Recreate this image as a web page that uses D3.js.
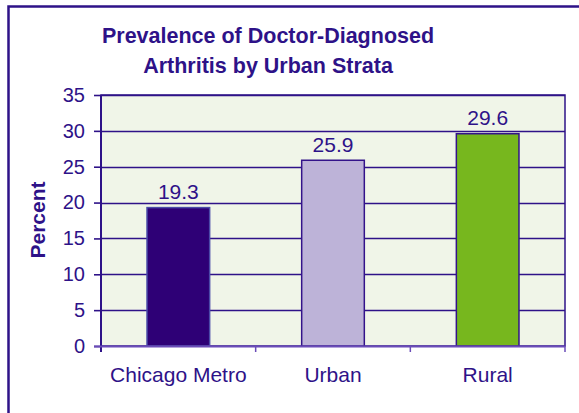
<!DOCTYPE html>
<html>
<head>
<meta charset="utf-8">
<script src="https://cdn.jsdelivr.net/npm/d3@7"></script>
<style>
  body { margin: 0; background: #fff; }
  text { font-family: "Liberation Sans", Arial, sans-serif; }
</style>
</head>
<body>
<div id="chart"></div>
<script>
var categories = ["Chicago Metro", "Urban", "Rural"];
var values = [19.3, 25.9, 29.6];
var barColors = ["#2e0076", "#bdb3d8", "#77b71e"];
var barStrokes = ["#4a4aa8", "#33138a", "#33138a"];
var yTicks = [0, 5, 10, 15, 20, 25, 30, 35];
var titleLines = ["Prevalence of Doctor-Diagnosed", "Arthritis by Urban Strata"];

var W = 579, H = 413;
var ink = "#2e1288";
var plot = { left: 101, right: 565, top: 95, bottom: 346 };

var svg = d3.select("#chart").append("svg")
    .attr("width", W)
    .attr("height", H);

// outer frame
svg.append("rect")
    .attr("x", 8.5).attr("y", 6.5)
    .attr("width", 600).attr("height", 430)
    .attr("fill", "#fff")
    .attr("stroke", ink)
    .attr("stroke-width", 2.5);

var x = d3.scaleBand()
    .domain(categories)
    .range([plot.left, plot.right])
    .padding(0);

var y = d3.scaleLinear()
    .domain([0, 35])
    .range([plot.bottom, plot.top]);

// plot background
svg.append("rect")
    .attr("x", plot.left).attr("y", plot.top)
    .attr("width", plot.right - plot.left)
    .attr("height", plot.bottom - plot.top)
    .attr("fill", "#f0f5e8")
    .attr("stroke", ink)
    .attr("stroke-width", 1.5);

// gridlines
svg.append("g").selectAll("line")
    .data(yTicks.filter(function(d) { return d > 0; }))
    .enter().append("line")
    .attr("x1", plot.left).attr("x2", plot.right)
    .attr("y1", function(d) { return Math.round(y(d)) + 0.5; })
    .attr("y2", function(d) { return Math.round(y(d)) + 0.5; })
    .attr("stroke", ink)
    .attr("stroke-width", 1.6);

// y axis
var yAxis = svg.append("g")
    .attr("transform", "translate(" + plot.left + ",0)")
    .call(d3.axisLeft(y).tickValues(yTicks).tickSize(7).tickPadding(9));
yAxis.select(".domain").attr("stroke", ink).attr("stroke-width", 2)
    .attr("d", "M0," + plot.top + "V" + (plot.bottom + 6));
yAxis.selectAll(".tick line").attr("stroke", ink).attr("stroke-width", 1.6);
yAxis.selectAll(".tick text")
    .attr("fill", ink)
    .style("font-size", "20px")
    .style("font-family", "'Liberation Sans', Arial, sans-serif");

// bars
var barW = x.bandwidth() * 0.405;
svg.append("g").selectAll("rect")
    .data(values)
    .enter().append("rect")
    .attr("x", function(d, i) { return x(categories[i]) + (x.bandwidth() - barW) / 2; })
    .attr("y", function(d) { return y(d); })
    .attr("width", barW)
    .attr("height", function(d) { return y(0) - y(d); })
    .attr("fill", function(d, i) { return barColors[i]; })
    .attr("stroke", function(d, i) { return barStrokes[i]; })
    .attr("stroke-width", 1.5);

// value labels
svg.append("g").selectAll("text")
    .data(values)
    .enter().append("text")
    .attr("x", function(d, i) { return x(categories[i]) + x.bandwidth() / 2; })
    .attr("y", function(d) { return y(d) - 8.5; })
    .attr("text-anchor", "middle")
    .attr("fill", ink)
    .style("font-size", "21px")
    .text(function(d) { return d.toFixed(1); });

// x axis
var xAxis = svg.append("g")
    .attr("transform", "translate(0," + plot.bottom + ")")
    .call(d3.axisBottom(x).tickSize(0).tickPadding(21));
xAxis.select(".domain").remove();
xAxis.append("line")
    .attr("x1", plot.left - 7).attr("x2", plot.right)
    .attr("y1", 0.5).attr("y2", 0.5)
    .attr("stroke", "#6a4cb8").attr("stroke-width", 2);
xAxis.selectAll(".sep")
    .data(categories.slice(1).concat([""]))
    .enter().append("line")
    .attr("x1", function(d, i) { return plot.left + x.step() * (i + 1); })
    .attr("x2", function(d, i) { return plot.left + x.step() * (i + 1); })
    .attr("y1", 0).attr("y2", 6)
    .attr("stroke", "#6a4cb8").attr("stroke-width", 1.5);
xAxis.selectAll(".tick text")
    .attr("fill", ink)
    .style("font-size", "21px")
    .style("font-family", "'Liberation Sans', Arial, sans-serif");

// axis title
svg.append("text")
    .attr("transform", "translate(45,220) rotate(-90)")
    .attr("text-anchor", "middle")
    .attr("fill", ink)
    .style("font-size", "21px")
    .style("font-weight", "bold")
    .text("Percent");

// chart title
svg.append("g").selectAll("text")
    .data(titleLines)
    .enter().append("text")
    .attr("x", 268)
    .attr("y", function(d, i) { return 43 + i * 30; })
    .attr("text-anchor", "middle")
    .attr("fill", ink)
    .style("font-size", "21.5px")
    .style("font-weight", "bold")
    .text(function(d) { return d; });
</script>
</body>
</html>
